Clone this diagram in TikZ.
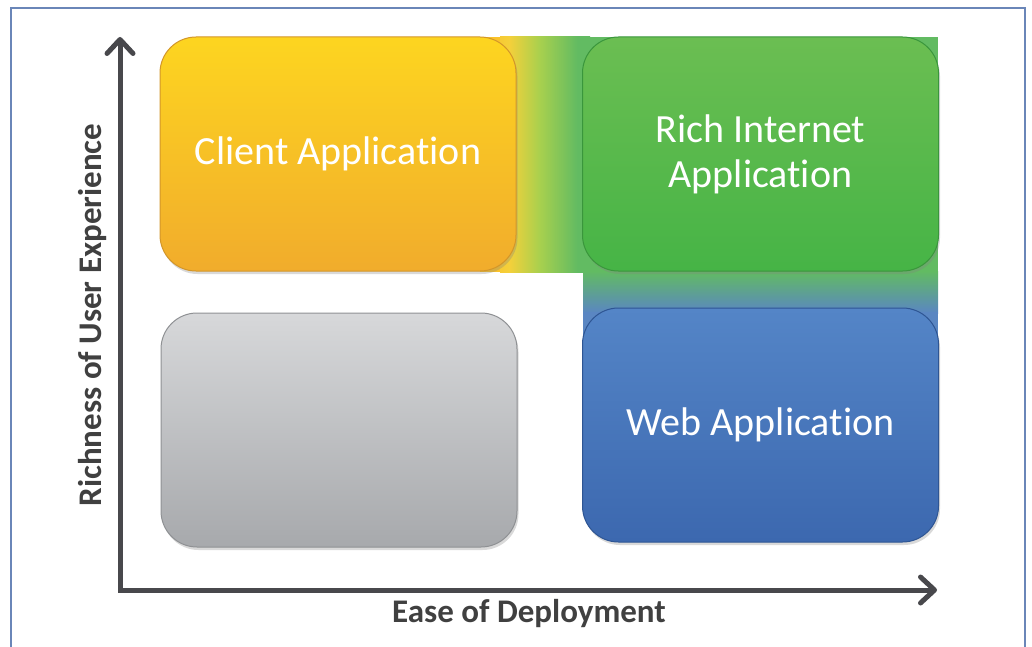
\documentclass[tikz,border=0pt]{standalone}
\usepackage{fontspec}
\setmainfont{Carlito}[Ligatures={NoCommon,NoContextual}]
\usetikzlibrary{arrows.meta,shadows}

\definecolor{clientTop}{HTML}{FDD520}
\definecolor{clientBottom}{HTML}{F1AC2C}
\definecolor{clientEdge}{HTML}{D3962A}
\definecolor{richTop}{HTML}{6BBE52}
\definecolor{richBottom}{HTML}{46B446}
\definecolor{richEdge}{HTML}{3A963C}
\definecolor{blankTop}{HTML}{D7D8DA}
\definecolor{blankBottom}{HTML}{A7A9AC}
\definecolor{blankEdge}{HTML}{8F9194}
\definecolor{webTop}{HTML}{5485C7}
\definecolor{webBottom}{HTML}{3C68AF}
\definecolor{webEdge}{HTML}{2E5593}
\definecolor{bandOrange}{HTML}{FAC22A}
\definecolor{bandYellow}{HTML}{F5D03A}
\definecolor{bandLime}{HTML}{A8D04E}
\definecolor{bandGreen}{HTML}{62BB62}
\definecolor{bandTeal}{HTML}{66A88C}
\definecolor{bandBlue}{HTML}{5A86C2}
\definecolor{axisGray}{HTML}{48484C}
\definecolor{labelGray}{HTML}{404040}
\definecolor{frameBlue}{HTML}{6A86B8}

\pgfdeclarehorizontalshading{bandfade}{100bp}{color(0bp)=(bandOrange); color(17bp)=(bandOrange); color(30bp)=(bandYellow); color(47bp)=(bandLime); color(68bp)=(bandGreen); color(100bp)=(bandGreen)}

\begin{document}
\begin{tikzpicture}
[x=1pt,y=1pt,
  boxDecorate/.style={rounded corners=36pt,minimum width=356pt,minimum height=234pt,line width=1pt,%
    text=white,align=center,font=\fontsize{40}{45}\selectfont,%
    drop shadow={opacity=0.3,shadow xshift=1.5pt,shadow yshift=-3pt}},%
  clientBox/.style={boxDecorate,top color=clientTop,bottom color=clientBottom,draw=clientEdge},%
  richBox/.style={boxDecorate,top color=richTop,bottom color=richBottom,draw=richEdge},%
  blankBox/.style={boxDecorate,top color=blankTop,bottom color=blankBottom,draw=blankEdge},%
  webBox/.style={boxDecorate,top color=webTop,bottom color=webBottom,draw=webEdge},%
  axisDecorate/.style={line width=5pt,draw=axisGray,line join=miter,%
    {Straight Barb[length=14pt,width=26pt,line cap=round,line join=round]}-{Straight Barb[length=14pt,width=26pt,line cap=round,line join=round]}},%
  labelDecorate/.style={text=labelGray,font=\bfseries\fontsize{33}{38}\selectfont}]
\useasboundingbox (0,0) rectangle (1032,-647);
%% frame
\draw[frameBlue,line width=1.3pt] (11,-660) -- (11,-8) -- (1025,-8) -- (1025,-660);
%% band behind the boxes
\fill[bandOrange] (480,-37) rectangle (501,-272);
\shade[shading=bandfade] (500,-37) rectangle (590,-272);
\fill[bandGreen] (589,-37) rectangle (938,-272);
\shade[top color=bandGreen,middle color=bandTeal,bottom color=bandBlue] (583,-271) rectangle (938,-313);
\fill[bandBlue] (583,-312) rectangle (938,-400);
%% boxes
\foreach \boxname/\x/\y/\boxstyle/\boxtext in {client/338/154/clientBox/{Client Application},
  rich/760.5/154/richBox/{Rich Internet\\Application}, blank/339/430/blankBox/{},
  web/760.5/425/webBox/{Web Application}}
{
  \node[\boxstyle] (\boxname) at (\x,-\y) {\boxtext};
}
%% axes
\coordinate (ytip) at (120,-37);
\coordinate (xtip) at (937,-590);
\draw[axisDecorate] (ytip) |- (xtip);
\node[labelDecorate,rotate=90] (ylabel) at (93,-315) {Richness of User Experience};
\node[labelDecorate] (xlabel) at (529,-614) {Ease of Deployment};
\end{tikzpicture}
\end{document}
